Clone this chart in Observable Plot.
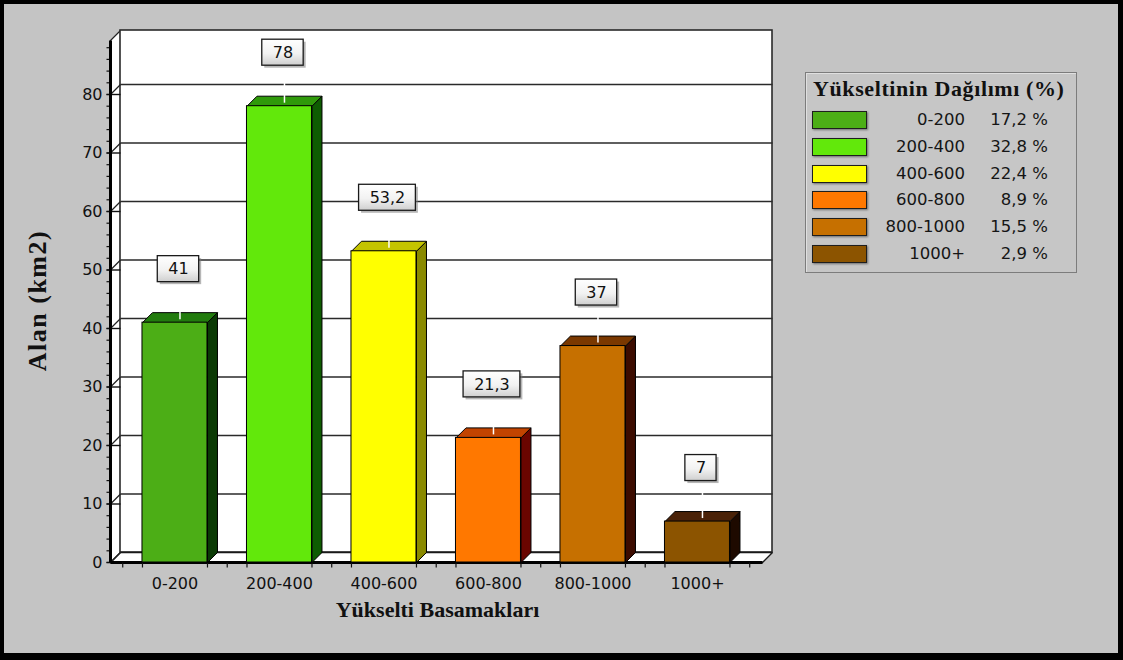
<!DOCTYPE html>
<html>
<head>
<meta charset="utf-8">
<script src="https://cdn.jsdelivr.net/npm/d3@7"></script>
<script src="https://cdn.jsdelivr.net/npm/@observablehq/plot@0.6"></script>
<style>
html, body { margin: 0; padding: 0; background: #c4c4c4; }
#wrap { position: relative; width: 1123px; height: 660px; overflow: hidden; background: #c4c4c4; }
#chart { position: absolute; left: 0; top: 0; }
#frame { position: absolute; left: 0; top: 0; width: 1123px; height: 660px; box-sizing: border-box;
  border: 4px solid #000; border-right-width: 5px; border-bottom-width: 7px; pointer-events: none; }
#legend { position: absolute; left: 805px; top: 72px; width: 272px; height: 201px; box-sizing: border-box;
  border: 1px solid #7c7c7c; background: #c6c6c6; box-shadow: inset 1px 1px 0 #e0e0e0; }
#ltitle { position: absolute; left: 7px; top: 3px; font: bold 22px "Liberation Serif", serif; letter-spacing: 0.6px;
  white-space: nowrap; color: #111; }
.row { position: absolute; left: 0; width: 100%; height: 20px; font: 16.5px "DejaVu Sans", sans-serif; color: #151515; line-height: 20px; }
.sw { position: absolute; left: 6px; top: 1px; width: 53px; height: 16px; border: 1.5px solid #1e1e1e;
  box-shadow: 1px 1px 2px rgba(0,0,0,0.45); }
.cat { position: absolute; right: 111px; top: 0; white-space: nowrap; }
.pct { position: absolute; right: 28px; top: 0; white-space: nowrap; }
</style>
</head>
<body>
<div id="wrap">
  <div id="chart"></div>
  <div id="legend"><div id="ltitle"></div></div>
  <div id="frame"></div>
</div>
<script>
// ---- data ----
const categories = ["0-200", "200-400", "400-600", "600-800", "800-1000", "1000+"];
const areas = [41, 78, 53.2, 21.3, 37, 7];
const shares = [17.2, 32.8, 22.4, 8.9, 15.5, 2.9];
const frontColors = ["#4cae16", "#62e80b", "#ffff00", "#ff7800", "#c67000", "#8c5400"];
const sideColors  = ["#0b3a05", "#0e5c02", "#8a8a00", "#6a0500", "#3c0c00", "#1e0a00"];
const topColors   = ["#227c0e", "#2f9a0a", "#c4c400", "#c24400", "#7a3800", "#4a2208"];
const yTicks = [0, 10, 20, 30, 40, 50, 60, 70, 80];
const yMinorStep = 2;
const legendTitle = "Yükseltinin Dağılımı (%)";
const xTitle = "Yükselti Basamakları";
const yTitle = "Alan (km2)";

const fmt = v => String(v).replace(".", ",");

// ---- layout ----
const W = 1123, H = 660;
const mL = 110, mR = 351, mT = 30, mB = 98;
const xDomain = [-0.617, 5.718];
const yMax = 90.94;
const X0 = xDomain[0], X1 = xDomain[1];
const pxX = (W - mL - mR) / (X1 - X0);
const pxY = (H - mT - mB) / yMax;
const DX = 10 / pxX, DY = 10 / pxY;
const HALF = 32.5 / pxX;

const bars = categories.map((c, i) => ({i, c, v: areas[i], label: fmt(areas[i])}));

function poly(points, opts) {
  return Plot.line(points.concat([points[0]]), {x: d => d[0], y: d => d[1], curve: "linear", strokeLinejoin: "miter", ...opts});
}

const defs = () => {
  const d = d3.create("svg:defs");
  const g = d.append("linearGradient").attr("id", "boxgrad").attr("x1", 0).attr("y1", 0).attr("x2", 0).attr("y2", 1);
  g.append("stop").attr("offset", "0%").attr("stop-color", "#ffffff");
  g.append("stop").attr("offset", "55%").attr("stop-color", "#f2f2f2");
  g.append("stop").attr("offset", "100%").attr("stop-color", "#cfcfcf");
  return d.node();
};

const barMarks = [];
bars.forEach(b => {
  const x0 = b.i - HALF, x1 = b.i + HALF, v = b.v;
  barMarks.push(poly([[x1, 0], [x1, v], [x1 + DX, v + DY], [x1 + DX, DY]],
    {fill: sideColors[b.i], stroke: "#000", strokeWidth: 1}));
  barMarks.push(poly([[x0, v], [x1, v], [x1 + DX, v + DY], [x0 + DX, v + DY]],
    {fill: topColors[b.i], stroke: "#000", strokeWidth: 1}));
});
barMarks.push(Plot.rect(bars, {x1: d => d.i - HALF, x2: d => d.i + HALF, y1: 0, y2: d => d.v,
  fill: d => frontColors[d.i], stroke: "#000", strokeWidth: 1}));

const labOff = 53.5 / pxY, labHalfH = 13 / pxY, labDx = 3.5 / pxX;
const labW = s => (s.replace(/[^0-9]/g, "").length * 10.2 + s.replace(/[0-9]/g, "").length * 5.2 + 21) / 2 / pxX;

const xTickPos = [];
for (let i = 0; i <= categories.length; i++) xTickPos.push(i - 0.5);
categories.forEach((c, i) => { xTickPos.push(i - HALF); xTickPos.push(i + HALF); });
const minorTicks = d3.range(0, yMax - DY, yMinorStep);

const chart = Plot.plot({
  width: W, height: H,
  marginLeft: mL, marginRight: mR, marginTop: mT, marginBottom: mB,
  x: {domain: xDomain, axis: null},
  y: {domain: [0, yMax], axis: null},
  style: {background: "transparent", fontFamily: "DejaVu Sans, sans-serif", color: "#111"},
  marks: [
    defs,
    // left wall
    poly([[X0, 0], [X0 + DX, DY], [X0 + DX, yMax], [X0, yMax - DY]], {fill: "#fff", stroke: "#222", strokeWidth: 1.2}),
    // back wall
    Plot.rect([0], {x1: X0 + DX, x2: X1, y1: DY, y2: yMax, fill: "#fff", stroke: "#2a2a2a", strokeWidth: 1.6}),
    // gridlines
    Plot.link(yTicks.filter(v => v > 0), {x1: X0 + DX, x2: X1, y1: v => v + DY, y2: v => v + DY, stroke: "#2a2a2a", strokeWidth: 1.6}),
    // floor
    poly([[X0, 0], [X1 - DX, 0], [X1, DY], [X0 + DX, DY]], {fill: "#fff", stroke: "#1a1a1a", strokeWidth: 1.4}),
    // left wall diagonals and tick stubs
    Plot.link(yTicks, {x1: X0, y1: v => v, x2: X0 + DX, y2: v => v + DY, stroke: "#222", strokeWidth: 1.2}),
    Plot.link(yTicks, {x1: X0 - 4 / pxX, x2: X0 + DX, y1: v => v, y2: v => v, stroke: "#111", strokeWidth: 1.4}),
    Plot.link(minorTicks, {x1: X0 - 4 / pxX, x2: X0, y1: v => v, y2: v => v, stroke: "#111", strokeWidth: 1.2}),
    // axis lines
    Plot.link([0], {x1: X0, x2: X0, y1: 0, y2: yMax - DY, stroke: "#000", strokeWidth: 3}),
    Plot.link([0], {x1: X0, x2: X1 - DX, y1: 0, y2: 0, stroke: "#000", strokeWidth: 3}),
    Plot.link(xTickPos, {x1: d => d, x2: d => d, y1: 0, y2: -5 / pxY, stroke: "#111", strokeWidth: 1.2}),
    // tick labels
    Plot.text(yTicks, {x: X0, y: v => v, text: v => String(v), textAnchor: "end", dx: -8, fontSize: 16, fill: "#111"}),
    Plot.text(categories, {x: (d, i) => i, y: 0, text: d => d, dy: 21, fontSize: 16, fill: "#111"}),
    // bars
    ...barMarks,
    // connectors
    Plot.link(bars, {x1: d => d.i + DX / 2, x2: d => d.i + DX / 2, y1: d => d.v + DY * 0.35, y2: d => d.v + labOff - labHalfH,
      stroke: "#fff", strokeWidth: 1.5}),
    // value label boxes
    Plot.rect(bars, {x1: d => d.i + labDx - labW(d.label), x2: d => d.i + labDx + labW(d.label),
      y1: d => d.v + labOff - labHalfH, y2: d => d.v + labOff + labHalfH, dx: 2.5, dy: 2.5, fill: "#7a7a7a", fillOpacity: 0.55}),
    Plot.rect(bars, {x1: d => d.i + labDx - labW(d.label), x2: d => d.i + labDx + labW(d.label),
      y1: d => d.v + labOff - labHalfH, y2: d => d.v + labOff + labHalfH, fill: "url(#boxgrad)", stroke: "#1a1a1a", strokeWidth: 1.3}),
    Plot.text(bars, {x: d => d.i + labDx, y: d => d.v + labOff, text: "label", fontSize: 16, fill: "#111"}),
    // axis titles
    Plot.text([yTitle], {frameAnchor: "left", textAnchor: "middle", lineAnchor: "middle", dx: -73, dy: 4, rotate: -90,
      fontSize: 26, fontWeight: "bold", fontFamily: "Liberation Serif, serif", fill: "#111", className: "ytitle"}),
    Plot.text([xTitle], {frameAnchor: "bottom", textAnchor: "middle", lineAnchor: "middle", dx: -4, dy: 47, fontSize: 22,
      fontWeight: "bold", fontFamily: "Liberation Serif, serif", fill: "#111"})
  ]
});
d3.select(chart).selectAll(".ytitle text").attr("letter-spacing", "1.5px");
document.getElementById("chart").appendChild(chart);

// ---- legend ----
const legend = document.getElementById("legend");
document.getElementById("ltitle").textContent = legendTitle;
categories.forEach((c, i) => {
  const row = document.createElement("div");
  row.className = "row";
  row.style.top = (37 + i * 26.8) + "px";
  const sw = document.createElement("div");
  sw.className = "sw";
  sw.style.background = frontColors[i];
  const cat = document.createElement("div");
  cat.className = "cat";
  cat.textContent = c;
  const pct = document.createElement("div");
  pct.className = "pct";
  pct.textContent = fmt(shares[i]) + " %";
  row.append(sw, cat, pct);
  legend.appendChild(row);
});
</script>
</body>
</html>
